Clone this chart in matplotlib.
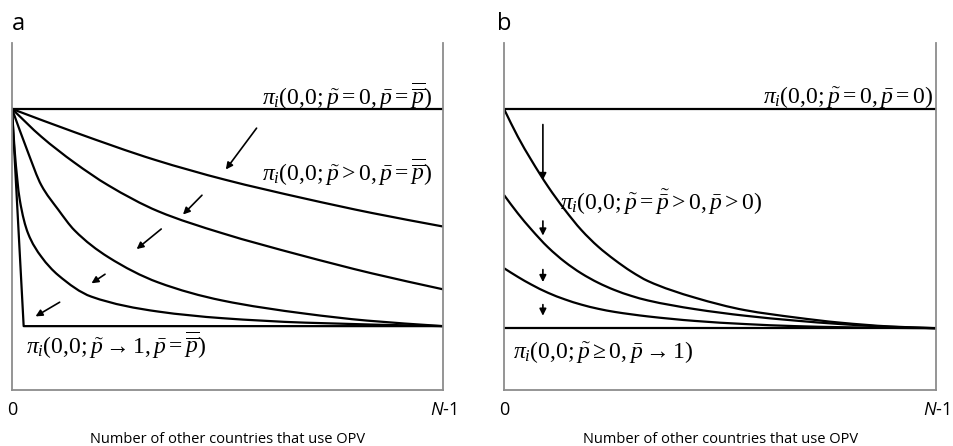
import matplotlib
matplotlib.use("Agg")
import matplotlib.pyplot as plt
from matplotlib.path import Path
from matplotlib.patches import PathPatch

plt.rcParams['mathtext.fontset'] = 'custom'
plt.rcParams['mathtext.rm'] = 'Liberation Serif'
plt.rcParams['mathtext.it'] = 'Liberation Serif:italic'
plt.rcParams['mathtext.sf'] = 'Open Sans:italic'
plt.rcParams['mathtext.fallback'] = 'stix'

# x: share of the other N-1 countries (0..100), y: payoff (axis 0..100)
# panel a
a_top = 81.0
a1_x = [0, 14.5, 33.2, 49.4, 67.8, 83.5, 100]
a1_y = [81.0, 74.3, 66.3, 60.6, 55.2, 51.0, 47.1]
a2_x = [0, 6.8, 14.5, 22.3, 33.9, 48.7, 66.8, 83.5, 100]
a2_y = [81.0, 73.0, 65.5, 59.0, 51.5, 45.2, 38.9, 33.6, 29.0]
a3_x = [0, 3.7, 6.8, 10.7, 14.5, 22.3, 33.9, 48.7, 68.0, 82.3, 100]
a3_y = [81.0, 68.5, 59.0, 52.0, 46.0, 38.3, 31.0, 25.8, 22.0, 20.0, 18.4]
a4_x = [0, 0.6, 1.8, 3.7, 6.8, 10.7, 18.4, 33.9, 48.7, 68.0, 100]
a4_y = [81.0, 69.2, 54.8, 45.2, 38.4, 33.1, 26.9, 22.6, 20.7, 19.4, 18.4]
a5_x = [0, 2.7, 100]
a5_y = [81.0, 18.4, 18.4]
a_arrows = [((57.1, 76.1), (49.2, 62.9)),
            ((44.5, 56.7), (39.2, 50.0)),
            ((35.1, 46.9), (28.4, 40.1)),
            ((22.1, 33.8), (17.9, 30.3)),
            ((11.6, 25.7), (4.9, 20.8))]

# panel b
b_top = 81.0
b_floor = 17.8
b_x = [0, 3.2, 6.3, 10.2, 14.1, 17.9, 21.8, 25.6, 29.5, 33.3, 44.2, 55.8, 67.4, 77.8, 89.4, 100]
b1_y = [81.0, 73.0, 66.3, 58.6, 51.9, 46.1, 41.3, 37.5, 34.1, 31.4, 26.6, 23.0, 20.9, 19.4, 18.3, 17.8]
b2_y = [56.2, 50.9, 46.3, 41.1, 36.9, 33.6, 30.9, 28.8, 27.1, 25.8, 23.3, 21.4, 20.0, 19.0, 18.2, 17.8]
b3_y = [35.1, 32.6, 30.4, 28.0, 26.1, 24.6, 23.4, 22.5, 21.8, 21.2, 19.9, 19.0, 18.4, 18.1, 17.9, 17.8]
b_arrows = [((9.0, 77.3), (9.0, 59.7)),
            ((9.0, 49.5), (9.0, 43.7)),
            ((9.0, 35.5), (9.0, 30.3)),
            ((9.0, 25.4), (9.0, 20.6))]

tick_pos = [0, 100]
tick_labels = ['0', r'$\mathsf{N}$-1']
xlabel = 'Number of other countries that use OPV'


def smooth_curve(ax, xs, ys, **kw):
    # monotone cubic through the read points, drawn as bezier segments
    n = len(xs)
    d = [(ys[k + 1] - ys[k]) / (xs[k + 1] - xs[k]) for k in range(n - 1)]
    m = [d[0]] + [0.0] * (n - 2) + [d[-1]]
    for k in range(1, n - 1):
        if d[k - 1] * d[k] <= 0:
            m[k] = 0.0
        else:
            h0 = xs[k] - xs[k - 1]
            h1 = xs[k + 1] - xs[k]
            w1 = 2 * h1 + h0
            w2 = h1 + 2 * h0
            m[k] = (w1 + w2) / (w1 / d[k - 1] + w2 / d[k])
    verts = [(xs[0], ys[0])]
    codes = [Path.MOVETO]
    for k in range(n - 1):
        h = xs[k + 1] - xs[k]
        verts += [(xs[k] + h / 3, ys[k] + m[k] * h / 3),
                  (xs[k + 1] - h / 3, ys[k + 1] - m[k + 1] * h / 3),
                  (xs[k + 1], ys[k + 1])]
        codes += [Path.CURVE4] * 3
    ax.add_patch(PathPatch(Path(verts, codes), fill=False, **kw))


fig = plt.figure(figsize=(9.54, 4.46), dpi=100)
ax_a = fig.add_axes([0.0126, 0.1256, 0.452, 0.778])
ax_b = fig.add_axes([0.5283, 0.1256, 0.453, 0.778])

lw = 1.6
for ax in (ax_a, ax_b):
    ax.set_xlim(0, 100)
    ax.set_ylim(0, 100)
    ax.spines['top'].set_visible(False)
    for s in ('left', 'right', 'bottom'):
        ax.spines[s].set_color('#8c8c8c')
        ax.spines[s].set_linewidth(1.3)
    ax.set_yticks([])
    ax.set_xticks(tick_pos)
    ax.set_xticklabels(tick_labels, fontfamily='Open Sans', fontsize=13)
    ax.tick_params(axis='x', length=0, pad=8)
    ax.set_xlabel(xlabel, fontfamily='Open Sans', fontsize=10.5, labelpad=9)

fs = 17
arrow_kw = dict(arrowstyle='-|>', color='black', lw=1.2, mutation_scale=10)

# panel a
ax_a.axhline(a_top, color='black', lw=lw)
for xs, ys in [(a1_x, a1_y), (a2_x, a2_y), (a3_x, a3_y), (a4_x, a4_y)]:
    smooth_curve(ax_a, xs, ys, color='black', lw=lw)
ax_a.plot(a5_x, a5_y, color='black', lw=lw)
for tail, head in a_arrows:
    ax_a.annotate('', xy=head, xytext=tail, arrowprops=arrow_kw)
ax_a.text(97.5, 84.7, r'$\pi_i(0{,}0;\tilde{p}=0,\bar{p}=\overline{\overline{p}})$', ha='right', va='center', fontsize=fs)
ax_a.text(97.5, 62.8, r'$\pi_i(0{,}0;\tilde{p}>0,\bar{p}=\overline{\overline{p}})$', ha='right', va='center', fontsize=fs)
ax_a.text(3.2, 13.0, r'$\pi_i(0{,}0;\tilde{p}\rightarrow 1,\bar{p}=\overline{\overline{p}})$', ha='left', va='center', fontsize=fs)
ax_a.text(0.0, 1.037, 'a', transform=ax_a.transAxes, fontfamily='Open Sans', fontsize=17, va='baseline')

# panel b
ax_b.axhline(b_top, color='black', lw=lw)
ax_b.axhline(b_floor, color='black', lw=lw)
for ys in (b1_y, b2_y, b3_y):
    smooth_curve(ax_b, b_x, ys, color='black', lw=lw)
for tail, head in b_arrows:
    ax_b.annotate('', xy=head, xytext=tail, arrowprops=arrow_kw)
ax_b.text(99.3, 84.4, r'$\pi_i(0{,}0;\tilde{p}=0,\bar{p}=0)$', ha='right', va='center', fontsize=fs)
ax_b.text(13.0, 53.9, r'$\pi_i(0{,}0;\tilde{p}=\tilde{\bar{p}}>0,\bar{p}>0)$', ha='left', va='center', fontsize=fs)
ax_b.text(2.1, 11.0, r'$\pi_i(0{,}0;\tilde{p}\geq 0,\bar{p}\rightarrow 1)$', ha='left', va='center', fontsize=fs)
ax_b.text(-0.016, 1.037, 'b', transform=ax_b.transAxes, fontfamily='Open Sans', fontsize=17, va='baseline')

fig.savefig('out.png', dpi=100)
